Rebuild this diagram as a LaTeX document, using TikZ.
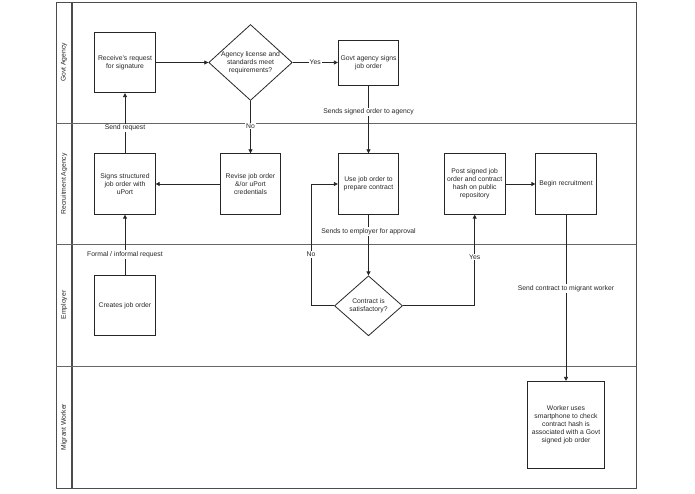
\documentclass[tikz,border=0pt]{standalone}
\usepackage{fontspec}
\setmainfont{Liberation Sans}
\usetikzlibrary{arrows.meta,shapes.geometric}
\begin{document}
\begin{tikzpicture}[x=1pt,y=-1pt,
  txt/.style={font=\fontsize{6.8}{8}\selectfont, text=black!85},
  stepbox/.style={txt, draw=black!85, line width=0.8pt, minimum width=60.5pt, minimum height=60.5pt, inner sep=1pt, align=center},
  decision/.style={txt, draw=black!85, line width=0.8pt, shape=diamond, inner sep=0pt, align=center},
  arr/.style={draw=black!85, line width=0.8pt, -{Triangle[length=4pt,width=4pt]}},
  lbl/.style={txt, fill=white, inner sep=1pt},
  lane/.style={draw=black!60, line width=0.8pt},
  lanelbl/.style={txt, rotate=90}
]
\useasboundingbox (0,0) rectangle (695,494);
% swimlane frame
\draw[lane, draw=black!70] (56,2) rectangle (636,488);
\draw[lane, draw=black!70, line width=1.3pt] (72,2) -- (72,488);
\draw[lane] (56,123) -- (636,123);
\draw[lane] (56,244) -- (636,244);
\draw[lane] (56,366) -- (636,366);
\node[lanelbl] (l1) at (64,62.5) {Govt Agency};
\node[lanelbl] (l2) at (64,184) {Recruitment Agency};
\node[lanelbl] (l3) at (64,305) {Employer};
\node[lanelbl] (l4) at (64,427) {Migrant Worker};
% nodes
\node[stepbox] (receive) at (125,62.5) {Receive's request\\for signature};
\node[decision, minimum width=83pt, minimum height=75pt, aspect=1.1] (dia1) at (250.5,62.5) {Agency license and\\standards meet\\requirements?};
\node[stepbox, minimum height=45pt] (govt) at (368.5,62.5) {Govt agency signs\\job order};
\node[stepbox] (signs) at (125,184) {Signs structured\\job order with\\uPort};
\node[stepbox] (revise) at (250.5,184) {Revise job order\\\&/or uPort\\credentials};
\node[stepbox] (use) at (368.5,184) {Use job order to\\prepare contract};
\node[stepbox] (post) at (474.7,184) {Post signed job\\order and contract\\hash on public\\repository};
\node[stepbox] (begin) at (566,184) {Begin recruitment};
\node[stepbox] (creates) at (125,305.5) {Creates job order};
\node[decision, minimum width=68pt, minimum height=60pt, aspect=1.13] (contract) at (368.5,305.8) {Contract is\\satisfactory?};
\node[stepbox, minimum width=76.3pt, minimum height=87.4pt] (worker) at (566,425) {Worker uses\\smartphone to check\\contract hash is\\associated with a Govt\\signed job order};
\coordinate (nocorner) at (311,305.8);
% connectors
\draw[arr] (receive) -- (dia1);
\draw[arr] (dia1) -- node[lbl]{Yes} (govt);
\draw[arr] (govt) -- node[lbl,pos=0.39]{Sends signed order to agency} (use);
\draw[arr] (dia1) -- node[lbl,pos=0.48]{No} (revise);
\draw[arr] (revise) -- (signs);
\draw[arr] (signs) -- node[lbl,pos=0.42]{Send request} (receive);
\draw[arr] (creates) -- node[lbl,pos=0.34]{Formal / informal request} (signs);
\draw[arr] (use) -- node[lbl,pos=0.28]{Sends to employer for approval} (contract);
\draw[arr] (contract.west) -- (nocorner) |- node[lbl,pos=0.21]{No} (use.west);
\draw[arr] (contract.east) -| node[lbl,pos=0.767]{Yes} (post.south);
\draw[arr] (post) -- (begin);
\draw[arr] (begin) -- node[lbl,pos=0.444]{Send contract to migrant worker} (worker);
\end{tikzpicture}
\end{document}
